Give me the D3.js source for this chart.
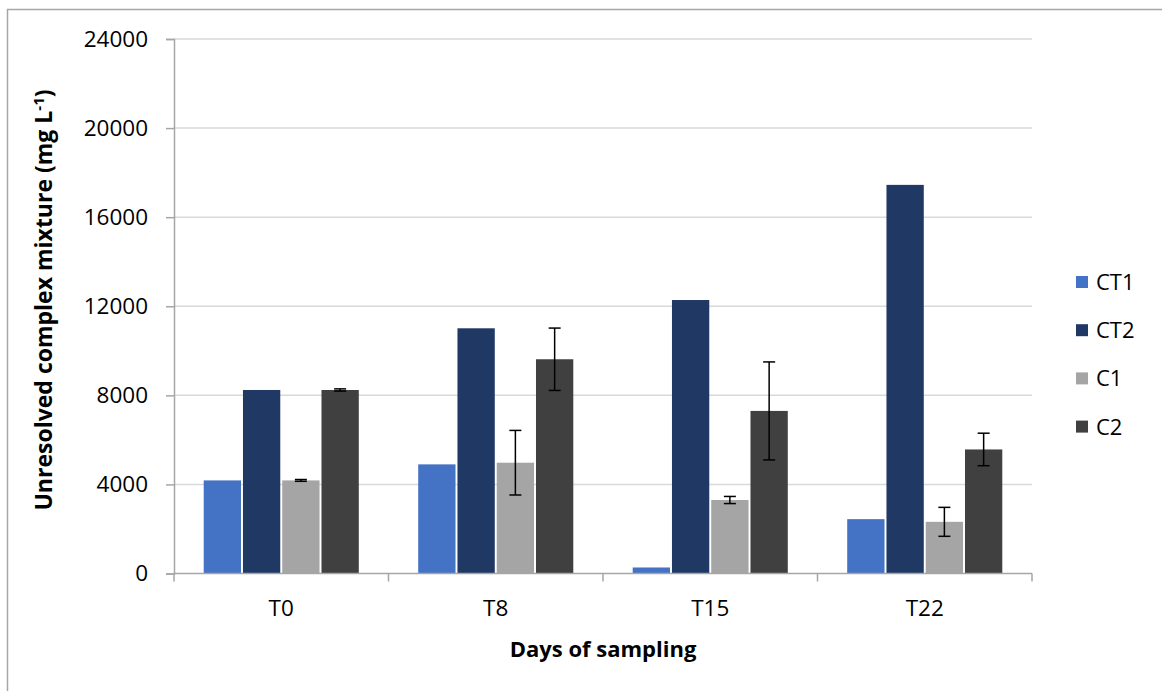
<!DOCTYPE html>
<html>
<head>
<meta charset="utf-8">
<script src="https://cdn.jsdelivr.net/npm/d3@7"></script>
<style>
	body { margin: 0; background: #fff; }
	text { font-family: "Open Sans", sans-serif; fill: #000; }
</style>
</head>
<body>
<script>
var categories = ["T0", "T8", "T15", "T22"]
var seriesNames = ["CT1", "CT2", "C1", "C2"]
var ct1 = [4180, 4900, 270, 2440]
var ct2 = [8240, 11010, 12280, 17450]
var c1 = [4180, 4975, 3300, 2320]
var c2 = [8240, 9620, 7300, 5570]
var c1Err = [40, 1450, 160, 650]
var c2Err = [50, 1400, 2200, 730]
var yTicks = [0, 4000, 8000, 12000, 16000, 20000, 24000]

var colors = ["#4472c4", "#203864", "#a5a5a5", "#404040"]
var values = [ct1, ct2, c1, c2]
var errors = [null, null, c1Err, c2Err]

// one record per bar
var bars = []
categories.forEach(function(cat, i){
	seriesNames.forEach(function(s, j){
		bars.push({cat: cat, series: s, value: values[j][i], err: errors[j] ? errors[j][i] : null})
	})
})

var w = 1162
var h = 691
// plot box (note: "top" is taken by window.top, so use other names)
var plotLeft = 174, plotRight = 1032, plotTop = 39, plotBottom = 573.5

var svg = d3.select("body")
	.append("svg")
	.attr("width", w)
	.attr("height", h)

// outer frame
svg.append("rect")
	.attr("x", 7.5)
	.attr("y", 9.5)
	.attr("width", w)
	.attr("height", h)
	.attr("fill", "none")
	.attr("stroke", "#a6a6a6")
	.attr("stroke-width", 1.5)

// Scales
var xScale = d3.scaleBand()
	.domain(categories)
	.range([plotLeft, plotRight])
	.paddingInner(0.277)
	.paddingOuter(0.1385)

var xInner = d3.scaleBand()
	.domain(seriesNames)
	.range([0, xScale.bandwidth()])
	.paddingInner(0.05)

var yScale = d3.scaleLinear()
	.domain([0, 24000])
	.range([plotBottom, plotTop])

var colorScale = d3.scaleOrdinal().domain(seriesNames).range(colors)

// gridlines
svg.append("g")
	.selectAll("line")
	.data(yTicks.slice(1))
	.enter()
	.append("line")
	.attr("x1", plotLeft)
	.attr("x2", plotRight)
	.attr("y1", (d) => yScale(d))
	.attr("y2", (d) => yScale(d))
	.attr("stroke", "#d9d9d9")
	.attr("stroke-width", 1.5)

// bars
svg.append("g")
	.selectAll("rect")
	.data(bars)
	.enter()
	.append("rect")
	.attr("x", (d) => xScale(d.cat) + xInner(d.series))
	.attr("y", (d) => yScale(d.value))
	.attr("width", xInner.bandwidth())
	.attr("height", (d) => yScale(0) - yScale(d.value))
	.attr("fill", (d) => colorScale(d.series))

// error bars
var errG = svg.append("g")
	.selectAll("g")
	.data(bars.filter((d) => d.err != null))
	.enter()
	.append("g")
	.attr("transform", (d) => "translate(" + (xScale(d.cat) + xInner(d.series) + xInner.bandwidth() / 2) + ",0)")
	.attr("stroke", "#000")
	.attr("stroke-width", 1.5)

errG.append("line")
	.attr("y1", (d) => yScale(d.value + d.err))
	.attr("y2", (d) => yScale(d.value - d.err))
errG.append("line")
	.attr("x1", -6).attr("x2", 6)
	.attr("y1", (d) => yScale(d.value + d.err))
	.attr("y2", (d) => yScale(d.value + d.err))
errG.append("line")
	.attr("x1", -6).attr("x2", 6)
	.attr("y1", (d) => yScale(d.value - d.err))
	.attr("y2", (d) => yScale(d.value - d.err))

// Axes
var yAxis = d3.axisLeft(yScale).tickValues(yTicks).tickFormat(d3.format("d")).tickSize(8).tickPadding(18)
var yG = svg.append("g")
	.attr("transform", "translate(" + plotLeft + ",0)")
	.call(yAxis)
yG.select(".domain").attr("stroke", "#a6a6a6").attr("stroke-width", 1.5)
yG.selectAll(".tick line").attr("stroke", "#a6a6a6").attr("stroke-width", 1.5)
yG.selectAll("text").style("font-size", "22.5px").attr("fill", "#000")

// x axis: plain line with ticks between categories
var xG = svg.append("g")
xG.append("line")
	.attr("x1", plotLeft).attr("x2", plotRight)
	.attr("y1", plotBottom).attr("y2", plotBottom)
	.attr("stroke", "#a6a6a6")
	.attr("stroke-width", 1.5)
var step = xScale.step()
xG.selectAll("line.tk")
	.data(d3.range(categories.length + 1))
	.enter()
	.append("line")
	.attr("class", "tk")
	.attr("x1", (i) => plotLeft + i * step)
	.attr("x2", (i) => plotLeft + i * step)
	.attr("y1", plotBottom)
	.attr("y2", plotBottom + 8)
	.attr("stroke", "#a6a6a6")
	.attr("stroke-width", 1.5)
xG.selectAll("text")
	.data(categories)
	.enter()
	.append("text")
	.attr("x", (d) => xScale(d) + xScale.bandwidth() / 2)
	.attr("y", 616)
	.attr("text-anchor", "middle")
	.style("font-size", "22.5px")
	.text((d) => d)

// axis titles
svg.append("text")
	.attr("x", 603)
	.attr("y", 657)
	.attr("text-anchor", "middle")
	.style("font-size", "22px")
	.style("font-weight", "bold")
	.text("Days of sampling")

var yTitle = svg.append("text")
	.attr("transform", "translate(52," + 300 + ") rotate(-90)")
	.attr("text-anchor", "middle")
	.style("font-size", "23px")
	.style("font-weight", "bold")
yTitle.append("tspan").text("Unresolved complex mixture (mg L")
yTitle.append("tspan").attr("dy", -8).style("font-size", "15px").text("-1")
yTitle.append("tspan").attr("dy", 8).text(")")

// legend
var legend = svg.append("g")
legend.selectAll("rect")
	.data(seriesNames)
	.enter()
	.append("rect")
	.attr("x", 1076)
	.attr("y", (d, i) => 276 + i * 48.2)
	.attr("width", 12)
	.attr("height", 12)
	.attr("fill", (d) => colorScale(d))
legend.selectAll("text")
	.data(seriesNames)
	.enter()
	.append("text")
	.attr("x", 1096)
	.attr("y", (d, i) => 290 + i * 48.2)
	.style("font-size", "22px")
	.text((d) => d)
</script>
</body>
</html>
